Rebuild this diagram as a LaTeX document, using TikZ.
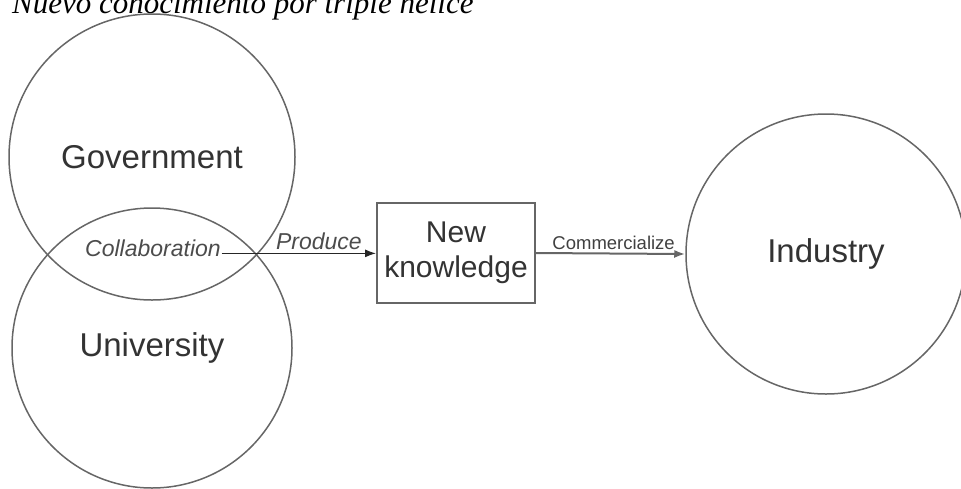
\documentclass[tikz,border=0pt]{standalone}
\usepackage{fontspec}
\setmainfont{Liberation Sans}
\newfontfamily\titlefont{Liberation Serif}
\usepackage{tikz}
\usetikzlibrary{arrows.meta}

\begin{document}
\begin{tikzpicture}[
    x = 1pt,
    y = -1pt,
    line width = 1.5pt,
    >= {Latex[length = 11pt, width = 8pt]},
    actor/.style = {draw = black!60,
      circle,
      inner sep = 0pt,
      text = black!80,
      font = \fontsize{33}{36}\selectfont},
    result/.style = {draw = black!60,
      rectangle,
      line width = 2pt,
      align = center,
      minimum width = 158,
      minimum height = 100,
      text = black!80,
      font = \fontsize{30}{35}\selectfont},
    link/.style = {black!70,
      font = \itshape\fontsize{23}{26}\selectfont},
    ]

    \useasboundingbox (0, 0) rectangle (961, 488);

    \node at (8, 13)
    [anchor = base west, font = \titlefont\itshape\fontsize{31}{34}\selectfont,
      name = title] {Nuevo conocimiento por triple hélice};

    \node at (152, 157)
    [actor, minimum size = 286, name = government] {Government};
    \node at (152, 348)
    [actor, minimum size = 280, name = university] {University};

    \node at (456, 253)
    [result, name = knowledge] {New\\knowledge};

    \node at (826, 254)
    [actor, minimum size = 280, name = industry] {Industry};

    \node at (153, 256)
    [link, anchor = base, inner sep = 0pt, name = collab] {Collaboration};

    \draw [->, black!85, line width = 1.2pt] (collab.mid east)
    to node [link, above, pos = 0.63, inner sep = 3pt] {Produce}
    (collab.mid east -| knowledge.west);

    \draw [->, black!60, line width = 2pt] (knowledge.east)
    to node [above, pos = 0.52, inner sep = 3pt, text = black!75,
      font = \fontsize{18.5}{20}\selectfont] {Commercialize}
    (industry.west);
\end{tikzpicture}
\end{document}
